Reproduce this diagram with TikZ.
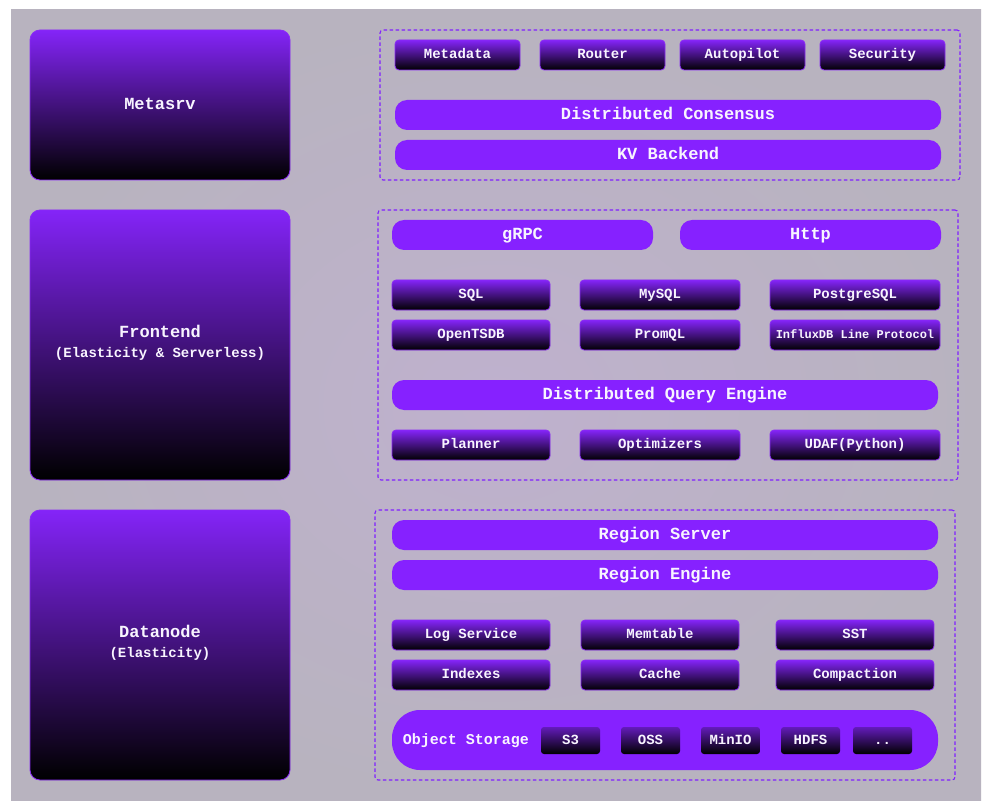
\documentclass[tikz,border=0pt]{standalone}
\usepackage{fontspec}
\setmainfont{Liberation Mono}
\definecolor{pv}{HTML}{8621FF}
\definecolor{pborder}{HTML}{8A2BF5}
\definecolor{bgA}{HTML}{B8B3BF}
\definecolor{bgB}{HTML}{BFB1CE}
\definecolor{gtop}{HTML}{8424F8}
\definecolor{txt}{HTML}{F8F4FF}
\definecolor{dash}{HTML}{8020FF}
\begin{document}
\begin{tikzpicture}[x=1pt,y=-1pt,
  every node/.style={inner sep=0pt, outer sep=0pt, text=txt},
  sz/.style 2 args={minimum width=#1pt, minimum height=#2pt},
  bigbox/.style={rounded corners=10pt, draw=pborder, line width=0.8pt, top color=gtop, bottom color=black},
  ttl/.style={font=\bfseries\fontsize{17}{20}\selectfont, align=center},
  sbox/.style={rounded corners=4pt, draw=pborder, line width=0.8pt, top color=gtop, bottom color=black, font=\bfseries\fontsize{14}{16}\selectfont, text height=9.2pt, text depth=1.5pt},
  stbox/.style={rounded corners=3pt, top color=gtop!75!black, bottom color=black, font=\bfseries\fontsize{14}{16}\selectfont, text height=9.2pt, text depth=1pt},
  pill/.style={rounded corners=12pt, fill=pv, font=\bfseries\fontsize{17}{20}\selectfont, text height=11.2pt, text depth=3pt},
  grp/.style={rounded corners=3pt, draw=dash, line width=1.1pt, dash pattern=on 3.5pt off 2.5pt},
  lbl/.style={font=\bfseries\fontsize{15}{17}\selectfont, text height=9.9pt, text depth=1.5pt}
]
\useasboundingbox (0,0) rectangle (990,810);
\fill[white] (0,0) rectangle (990,810);
\shade[inner color=bgB, outer color=bgA] (11,10) rectangle (981,800);

% left column
\node[bigbox, sz={260}{150}] (metasrv) at (160,105) {};
\node[ttl] (metasrvt) at (160,104) {Metasrv};
\node[bigbox, sz={260}{270}] (frontend) at (160,345) {};
\node[ttl] (frontendt) at (160,343) {Frontend\\{\fontsize{14}{17}\selectfont (Elasticity \& Serverless)}};
\node[bigbox, sz={260}{270}] (datanode) at (160,645) {};
\node[ttl] (datanodet) at (160,643) {Datanode\\{\fontsize{14}{17}\selectfont (Elasticity)}};

% groups
\node[grp, sz={580}{150}] (g1) at (670,105) {};
\node[grp, sz={580}{270}] (g2) at (668,345) {};
\node[grp, sz={580}{270}] (g3) at (665,645) {};

% metasrv group
\node[sbox, sz={125}{30}] (metadata) at (457.5,55) {Metadata};
\node[sbox, sz={125}{30}] (router) at (602.5,55) {Router};
\node[sbox, sz={125}{30}] (autopilot) at (742.5,55) {Autopilot};
\node[sbox, sz={125}{30}] (security) at (882.5,55) {Security};
\node[pill, sz={546}{30}] (consensus) at (668,115) {Distributed Consensus};
\node[pill, sz={546}{30}] (kv) at (668,155) {KV Backend};

% frontend group
\node[pill, sz={261}{30}] (grpc) at (522.5,235) {gRPC};
\node[pill, sz={261}{30}] (http) at (810.5,235) {Http};
\node[sbox, sz={158}{30}] (sql) at (471,295) {SQL};
\node[sbox, sz={160}{30}] (mysql) at (660,295) {MySQL};
\node[sbox, sz={170}{30}] (pg) at (855,295) {PostgreSQL};
\node[sbox, sz={158}{30}] (tsdb) at (471,335) {OpenTSDB};
\node[sbox, sz={160}{30}] (promql) at (660,335) {PromQL};
\node[sbox, sz={170}{30}, font=\bfseries\fontsize{12}{14}\selectfont, text height=7.9pt] (influx) at (855,335) {InfluxDB Line Protocol};
\node[pill, sz={546}{30}] (dqe) at (665,395) {Distributed Query Engine};
\node[sbox, sz={158}{30}] (planner) at (471,445) {Planner};
\node[sbox, sz={160}{30}] (optim) at (660,445) {Optimizers};
\node[sbox, sz={170}{30}] (udaf) at (855,445) {UDAF(Python)};

% datanode group
\node[pill, sz={546}{30}] (rserver) at (665,535) {Region Server};
\node[pill, sz={546}{30}] (rengine) at (665,575) {Region Engine};
\node[sbox, sz={158}{30}] (logsvc) at (471,635) {Log Service};
\node[sbox, sz={158}{30}] (memtable) at (660,635) {Memtable};
\node[sbox, sz={158}{30}] (sst) at (855,635) {SST};
\node[sbox, sz={158}{30}] (indexes) at (471,675) {Indexes};
\node[sbox, sz={158}{30}] (cache) at (660,675) {Cache};
\node[sbox, sz={158}{30}] (compaction) at (855,675) {Compaction};
\node[pill, rounded corners=28pt, sz={546}{60}] (objstore) at (665,740) {};
\node[lbl] (objlbl) at (466,740) {Object Storage};
\node[stbox, sz={59}{27}] (s3) at (570.5,740.5) {S3};
\node[stbox, sz={59}{27}] (oss) at (650.5,740.5) {OSS};
\node[stbox, sz={59}{27}] (minio) at (730.5,740.5) {MinIO};
\node[stbox, sz={59}{27}] (hdfs) at (810.5,740.5) {HDFS};
\node[stbox, sz={59}{27}] (more) at (882.5,740.5) {..};
\end{tikzpicture}
\end{document}
